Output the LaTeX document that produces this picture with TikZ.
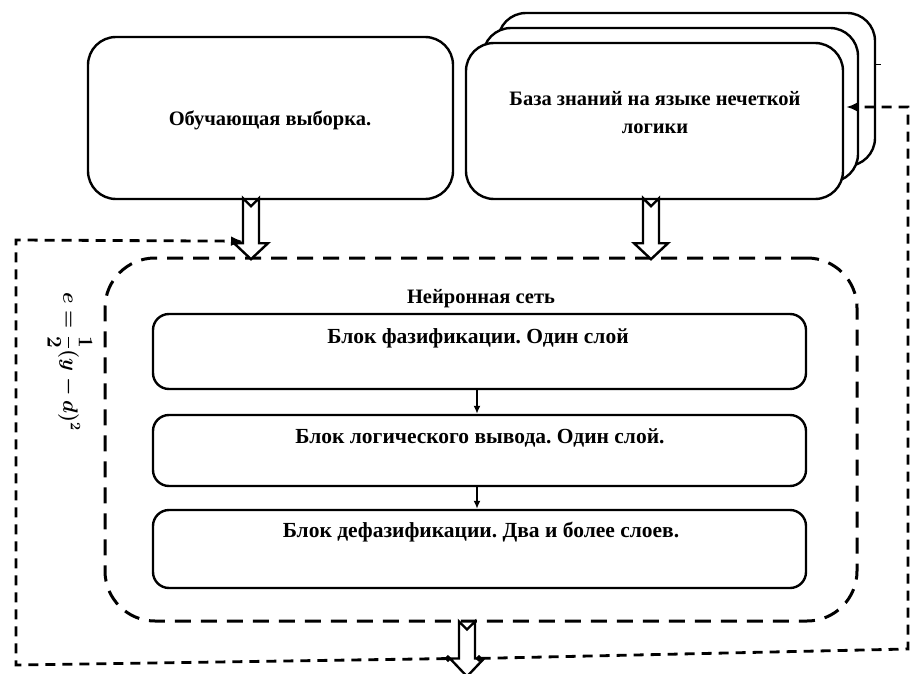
\documentclass[tikz,border=0pt]{standalone}
\usepackage{amsmath,bm}
\usepackage{fontspec}
\setmainfont{Liberation Serif}
\usetikzlibrary{calc,arrows.meta}
\frenchspacing
\newcommand{\fatarrow}[3]{% #1 top coordinate, #2 shaft length, #3 head length
  \draw[fat] ($(#1)+(-8,0)$) -- ($(#1)+(0,8)$) -- ($(#1)+(8,0)$) -- ($(#1)+(8,#2)$) -- ($(#1)+(17,#2)$) -- ($(#1)+(0,#2+#3)$) -- ($(#1)+(-17,#2)$) -- ($(#1)+(-8,#2)$) -- cycle;}
\begin{document}
\begin{tikzpicture}[x=1pt,y=-1pt,
  box/.style={draw, line width=2.4pt, rounded corners=28pt, fill=white, inner sep=0pt},
  innerbox/.style={draw, line width=2.4pt, rounded corners=16pt, inner sep=0pt, minimum width=653pt},
  lbl/.style={font=\bfseries\fontsize{20.5}{28}\selectfont, align=center, inner sep=0pt},
  blbl/.style={font=\bfseries\fontsize{21.5}{28}\selectfont, align=center, inner sep=0pt},
  fat/.style={draw, line width=2.4pt, fill=white, line join=miter},
  fb/.style={line width=2.8pt, dash pattern=on 10pt off 7pt},
  bigdash/.style={draw, line width=3pt, dash pattern=on 16pt off 10pt, rounded corners=50pt, inner sep=0pt},
  small/.style={line width=2pt, -{Latex[length=8pt,width=7pt]}}]
\useasboundingbox (0,0) rectangle (910,674);
\fill[white] (0,0) rectangle (910,674);

% top left box
\node[box, minimum width=365pt, minimum height=162pt] (train) at (270.5,118) {};
\node[lbl] (traintext) at (270,120) {Обучающая выборка.};

% stacked knowledge base boxes
\node[box, minimum width=377pt, minimum height=153pt] (kb3) at (686.5,89.5) {};
\node[box, minimum width=375pt, minimum height=154pt] (kb2) at (670.5,105) {};
\node[box, minimum width=377pt, minimum height=156pt] (kb) at (654.5,121) {};
\node[lbl] (kbtext) at (655,113) {База знаний на языке нечеткой\\логики};
\draw[line width=1pt] (kb3.east |- 0,65) -- ++(5,0);

% neural network dashed container
\node[bigdash, minimum width=752pt, minimum height=363pt] (nn) at (481,439.5) {};
\node[lbl] (nntext) at (481,299) {Нейронная сеть};

% inner blocks
\node[innerbox, minimum height=75pt] (b1) at (479.5,351.5) {};
\node[blbl] (b1text) at (478,338) {Блок фазификации. Один слой};
\node[innerbox, minimum height=71pt] (b2) at (479.5,450.5) {};
\node[blbl] (b2text) at (480,438) {Блок логического вывода. Один слой.};
\node[innerbox, minimum height=78pt] (b3) at (479.5,549) {};
\node[blbl] (b3text) at (481,532) {Блок дефазификации. Два и более слоев.};

\draw[small] ($(b1.south)+(-2.5,0)$) -- ($(b2.north)+(-2.5,0)$);
\draw[small] ($(b2.south)+(-2.5,0)$) -- ($(b3.north)+(-2.5,0)$);

% hollow arrows
\coordinate (a1) at ($(train.south)+(-19.5,-2)$);
\coordinate (a2) at ($(kb.south)+(-3.5,-2)$);
\coordinate (a3) at ($(nn.south)+(-14,-1)$);
\fatarrow{a1}{45}{16}
\fatarrow{a2}{45}{16}
\fatarrow{a3}{37}{18}

% formula
\node[rotate=-90, font=\fontsize{20}{24}\selectfont\boldmath, inner sep=0pt] (formula) at (70,362) {$e=\dfrac{1}{2}(y-d)^2$};

% feedback loops
\coordinate (fl0) at ($(a3)+(-16,37)$);
\coordinate (fl1) at (16,665);
\coordinate (fl2) at (16,240);
\coordinate (fl3) at ($(a1)+(-8,43)$);
\draw[fb, {Circle[length=6pt]}-{Latex[length=12pt,width=10pt]}] (fl0) -- (fl1) -- (fl2) -- (fl3);
\coordinate (fr0) at ($(a3)+(9,37)$);
\coordinate (fr1) at (908,649);
\coordinate (fr2) at (908,107);
\coordinate (fr3) at ($(kb.east |- 0,107)+(2,0)$);
\draw[fb, {Circle[length=6pt]}-{Latex[length=12pt,width=10pt]}] (fr0) -- (fr1) -- (fr2) -- (fr3);
\end{tikzpicture}
\end{document}
